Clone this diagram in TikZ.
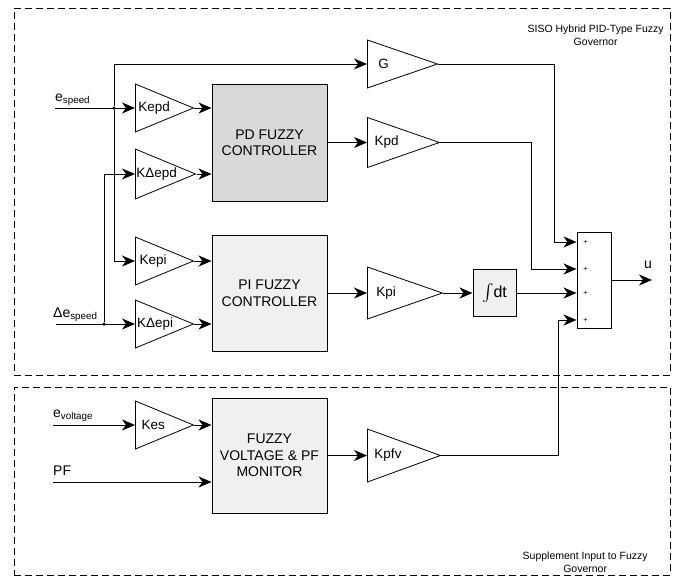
\documentclass[tikz,border=0pt]{standalone}
\usepackage{amsmath}
\usepackage{fontspec}
\setmainfont{Liberation Sans}
\usepackage{tikz}
\usetikzlibrary{arrows.meta,positioning,shapes.geometric,calc}
\definecolor{PDgray}{HTML}{D9D9D9}
\definecolor{PIgray}{HTML}{F0F0F0}
\tikzset{
  gov/block/.style={draw, line width=1pt, align=center, font=\fontsize{14}{16.5}\selectfont, minimum width=115pt},
  gov/gain/.style={draw, line width=0.8pt, isosceles triangle, isosceles triangle stretches, inner sep=1pt, anchor=west, font=\fontsize{13.5}{16}\selectfont},
  gov/frame/.style={draw, line width=0.8pt, dash pattern=on 7pt off 4pt, anchor=north west, inner sep=0pt},
  gov/note/.style={align=center, font=\fontsize{10.5}{13}\selectfont, inner sep=0pt},
  gov/sig/.style={font=\fontsize{14}{16}\selectfont, inner sep=0pt, anchor=base west},
  gov/dot/.style={circle, fill, inner sep=0pt, minimum size=3.5pt},
  gov/plus/.style={font=\fontsize{7.5}{7.5}\selectfont, inner sep=0pt},
  arr/.style={-{Stealth[length=13pt,width=11pt,inset=4pt]}, line width=0.9pt}
}
\begin{document}
\begin{tikzpicture}[x=1pt, y=-1pt]
\useasboundingbox (0,0) rectangle (678,576);
\node[gov/frame, minimum width=656pt, minimum height=367pt] (sisobox) at (14,8) {};
\node[gov/frame, minimum width=656pt, minimum height=188pt] (supbox) at (14,387) {};
\node[gov/note, anchor=north east] (sisolbl) at ([xshift=-7pt,yshift=-17pt]sisobox.north east) {SISO Hybrid PID-Type Fuzzy\\Governor};
\node[gov/note, anchor=south east] (suplbl) at ([xshift=-23pt,yshift=3pt]supbox.south east) {Supplement Input to Fuzzy\\Governor};

\node[gov/block, fill=PDgray, minimum height=117pt] (pd) at (269.5,142.5) {PD FUZZY\\CONTROLLER};
\node[gov/block, fill=PIgray, minimum height=116pt] (pi) at (269.5,293) {PI FUZZY\\CONTROLLER};
\node[gov/block, fill=PIgray, minimum height=115pt] (fz) at (269.5,455.5) {FUZZY\\VOLTAGE \& PF\\MONITOR};
\node[gov/block, fill=PIgray, minimum width=43pt, minimum height=47pt, inner sep=1pt, font=\fontsize{16}{18}\selectfont] (intg) at (494.5,293) {$\int$dt};
\node[draw, line width=1pt, minimum width=34pt, minimum height=96pt] (sum) at (594,280) {};

\node[gov/gain, minimum height=58pt, minimum width=48pt] (kepd) at (135,108) {Kepd};
\node[gov/gain, minimum height=58pt, minimum width=48pt] (kdepd) at (135,174) {KΔepd};
\node[gov/gain, minimum height=58pt, minimum width=48pt] (kepi) at (135,261) {Kepi};
\node[gov/gain, minimum height=58pt, minimum width=48pt] (kdepi) at (135,324) {KΔepi};
\node[gov/gain, minimum height=58pt, minimum width=48pt] (kes) at (135,425) {Kes};
\node[gov/gain, minimum height=70pt, minimum width=48pt] (g) at (367,64) {G};
\node[gov/gain, minimum height=72pt, minimum width=50pt] (kpd) at (367,142.5) {Kpd};
\node[gov/gain, minimum height=75pt, minimum width=52pt] (kpi) at (367,293) {Kpi};
\node[gov/gain, minimum height=73pt, minimum width=53pt] (kpfv) at (367,455.5) {Kpfv};

\coordinate (esp) at (55,108);
\coordinate (desp) at (56,324);
\coordinate (ev) at (53,425);
\coordinate (pf) at (53,482);
\coordinate (uout) at (652,280);
\node[gov/sig] (lesp) at (55,101) {e\textsubscript{speed}};
\node[gov/sig] (ldesp) at (53,317) {Δe\textsubscript{speed}};
\node[gov/sig] (lev) at (53,417) {e\textsubscript{voltage}};
\node[gov/sig] (lpf) at (53,475) {PF};
\node[gov/sig, anchor=base] (lu) at (648,268) {u};
\node[gov/dot] (dsp) at (114,108) {};
\node[gov/dot] (ddesp) at (104,324) {};

\coordinate (sin1) at ([yshift=38pt]sum.west);
\coordinate (sin2) at ([yshift=11pt]sum.west);
\coordinate (sin3) at ([yshift=-13pt]sum.west);
\coordinate (sin4) at ([yshift=-40pt]sum.west);
\foreach \i in {1,...,4}
  \node[gov/plus] (plus\i) at ([xshift=9pt]sin\i) {+};

\draw[arr] (esp) -- (kepd.west);
\draw[arr] (dsp) |- (g.west);
\draw[arr] (dsp) |- (kepi.west);
\draw[arr] (desp) -- (kdepi.west);
\draw[arr] (ddesp) |- (kdepd.west);
\draw[arr] (ev) -- (kes.west);
\draw[arr] (pf) -- (pf -| fz.west);
\draw[arr] (kepd.apex) -- (kepd.apex -| pd.west);
\draw[arr] (kdepd.apex) -- (kdepd.apex -| pd.west);
\draw[arr] (kepi.apex) -- (kepi.apex -| pi.west);
\draw[arr] (kdepi.apex) -- (kdepi.apex -| pi.west);
\draw[arr] (kes.apex) -- (kes.apex -| fz.west);
\draw[arr] (pd.east) -- (kpd.west);
\draw[arr] (pi.east) -- (kpi.west);
\draw[arr] (fz.east) -- (kpfv.west);
\draw[arr] (kpi.apex) -- (kpi.apex -| intg.west);
\draw[arr] (intg.east) -- (sin3);
\draw[arr] (g.apex) -| ([xshift=-22pt]sin1) -- (sin1);
\draw[arr] (kpd.apex) -| ([xshift=-45pt]sin2) -- (sin2);
\draw[arr] (kpfv.apex) -| ([xshift=-18pt]sin4) -- (sin4);
\draw[arr] (sum.east) -- (uout);
\end{tikzpicture}
\end{document}
